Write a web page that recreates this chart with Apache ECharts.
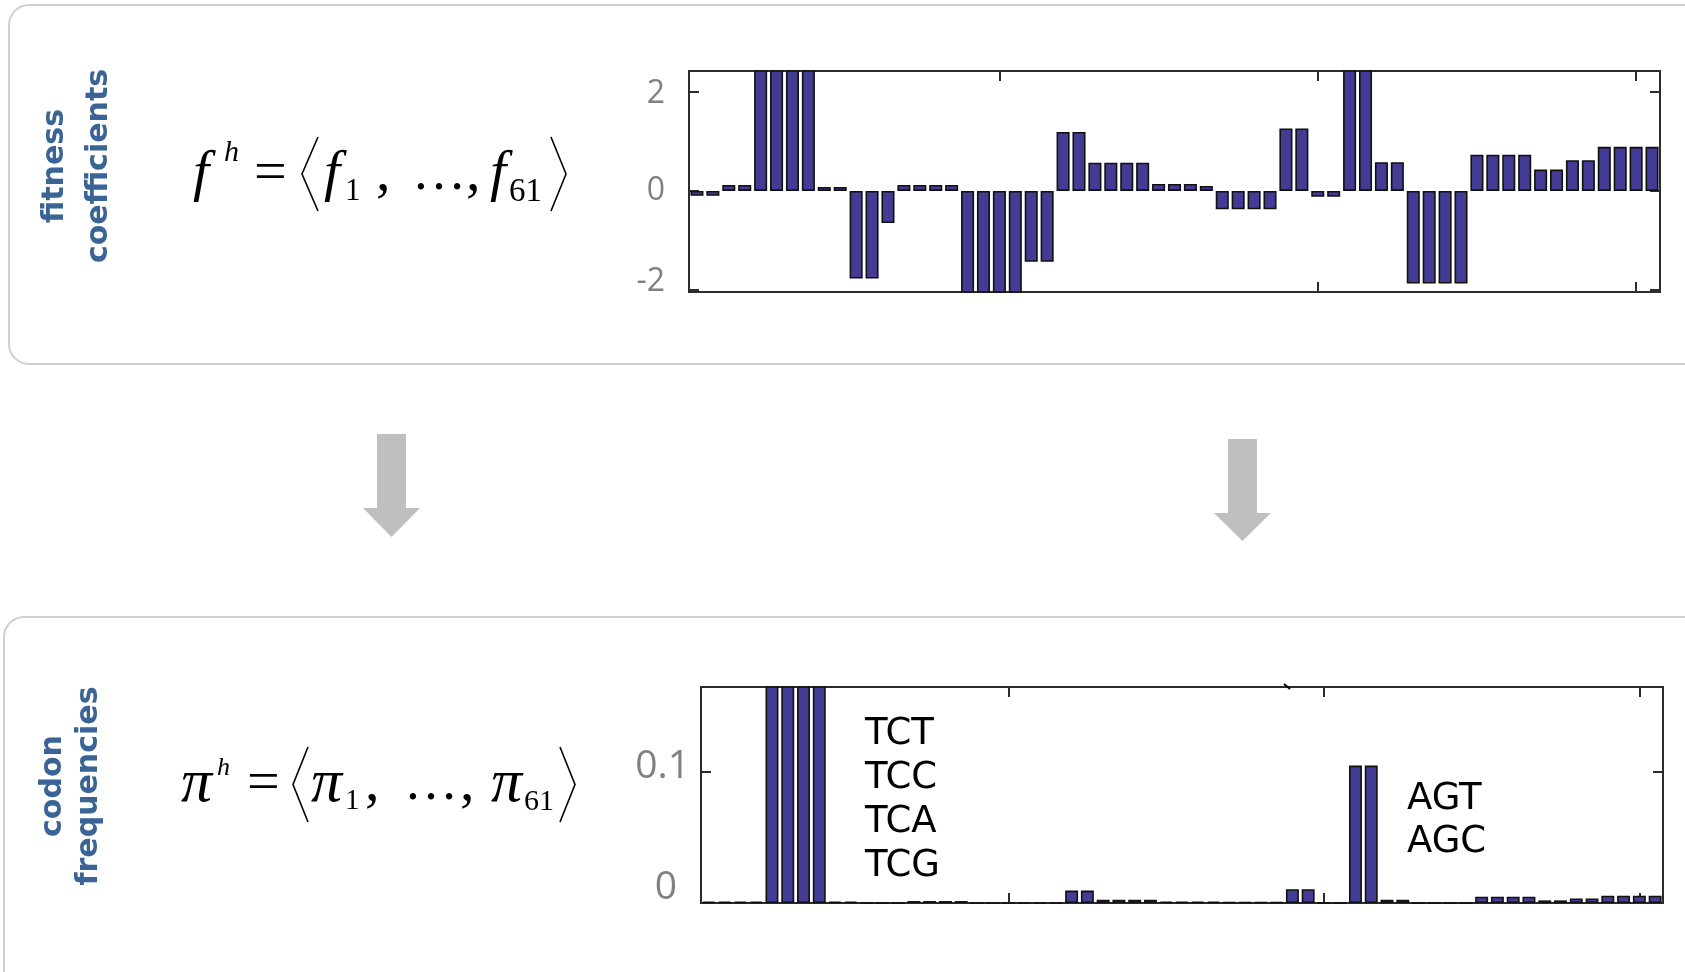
<!DOCTYPE html>
<html>
<head>
<meta charset="utf-8">
<script src="https://cdn.jsdelivr.net/npm/echarts@6/dist/echarts.min.js"></script>
<style>
  html, body { margin: 0; padding: 0; background: #fff; }
  #chart { width: 1685px; height: 972px; }
</style>
</head>
<body>
<div id="chart"></div>
<script>
// codon positions 1..61
const codons = [
  '1','2','3','4','5','6','7','8','9','10',
  '11','12','13','14','15','16','17','18','19','20',
  '21','22','23','24','25','26','27','28','29','30',
  '31','32','33','34','35','36','37','38','39','40',
  '41','42','43','44','45','46','47','48','49','50',
  '51','52','53','54','55','56','57','58','59','60','61'
]

// fitness coefficients f_1..f_61 (bars past the frame are clipped)
const fitness = [
  -0.10, -0.10, 0.12, 0.12, 2.50, 2.50, 2.50, 2.50, 0.08, 0.08,
  -1.77, -1.77, -0.65, 0.12, 0.12, 0.12, 0.12, -2.10, -2.10, -2.10,
  -2.10, -1.43, -1.43, 1.19, 1.19, 0.57, 0.57, 0.57, 0.57, 0.14,
  0.14, 0.14, 0.10, -0.37, -0.37, -0.37, -0.37, 1.26, 1.26, -0.12,
  -0.12, 2.50, 2.50, 0.58, 0.58, -1.87, -1.87, -1.87, -1.87, 0.73,
  0.73, 0.73, 0.73, 0.43, 0.43, 0.62, 0.62, 0.89, 0.89, 0.89, 0.89
]

// codon frequencies pi_1..pi_61
const freq = [
  0.001, 0.001, 0.001, 0.001, 0.18, 0.18, 0.18, 0.18, 0.001, 0.001,
  0, 0, 0, 0.0015, 0.0015, 0.0015, 0.0015, 0, 0, 0,
  0, 0, 0, 0.0095, 0.0095, 0.0025, 0.0025, 0.0025, 0.0025, 0.001,
  0.001, 0.001, 0.001, 0.0005, 0.0005, 0.0005, 0.0005, 0.0105, 0.0105, 0,
  0, 0.105, 0.105, 0.0025, 0.0025, 0, 0, 0, 0, 0.0048,
  0.0048, 0.0048, 0.0048, 0.002, 0.002, 0.0035, 0.0035, 0.0056, 0.0056, 0.0056, 0.0056
]

const xTicks = [20, 40, 60]
const fitTicks = [-2, 0, 2]
const freqTicks = [0, 0.1]
const serineTop = ['TCT', 'TCC', 'TCA', 'TCG']
const serineBottom = ['AGT', 'AGC']

const barColor = '#433b94'
const frameColor = '#2b2b2b'
const labelGray = '#808080'
const titleBlue = '#3b6496'
const arrowGray = '#bfbfbf'

const chart = echarts.init(document.getElementById('chart'), null, {renderer: 'canvas'})

const tickStyle = {show: true, inside: true, length: 10, lineStyle: {color: frameColor, width: 2}}

const catAxis = function (gridIndex, position) {
  return {
    type: 'category',
    gridIndex: gridIndex,
    position: position,
    data: codons,
    boundaryGap: true,
    axisLine: {show: false, onZero: false},
    axisLabel: {show: false},
    splitLine: {show: false},
    axisTick: {
      ...tickStyle,
      alignWithLabel: true,
      interval: function (idx) { return xTicks.indexOf(idx + 1) !== -1 },
    },
  }
}

const valAxis = function (gridIndex, position, min, max, ticks, label) {
  return {
    type: 'value',
    gridIndex: gridIndex,
    position: position,
    min: min,
    max: max,
    axisLine: {show: false, onZero: false},
    splitLine: {show: false},
    axisTick: {...tickStyle, customValues: ticks},
    axisLabel: label ? {customValues: ticks, ...label} : {show: false},
  }
}

// y tick labels, nudged like the hand placed labels of the original
const fitLabel = {
  margin: 24,
  formatter: function (v) {
    if (v === 0) return '{z|0}'
    if (v < 0) return '{m|' + v + '}'
    return '{a|' + v + '}'
  },
  rich: {
    a: {fontSize: 32, fontFamily: 'Open Sans', color: labelGray, padding: [4, 0, 0, 0]},
    z: {fontSize: 32, fontFamily: 'Open Sans', color: labelGray},
    m: {fontSize: 32, fontFamily: 'Open Sans', color: labelGray, padding: [0, 0, 16, 0]},
  },
}

const freqLabel = {
  margin: 11,
  formatter: function (v) {
    return v === 0 ? '{z|0}' : '{a|' + v + '}'
  },
  rich: {
    a: {fontSize: 39, fontFamily: 'Open Sans', color: labelGray, padding: [0, 0, 10, 0]},
    z: {fontSize: 39, fontFamily: 'Open Sans', color: labelGray, padding: [0, 13, 30, 0]},
  },
}

const gridBox = {
  show: true,
  borderColor: frameColor,
  borderWidth: 2,
  backgroundColor: 'transparent',
  containLabel: false,
  outerBoundsMode: 'none',
}

// ---------- decorations (panels, titles, formulas, arrows, codon names) ----------
const serif = 'Liberation Serif'

const txt = function (x, y, text, size, opts) {
  opts = opts || {}
  return {
    type: 'text',
    x: x,
    y: y,
    rotation: opts.rotation || 0,
    style: {
      text: text,
      fontSize: size,
      fontFamily: opts.family || serif,
      fontStyle: opts.italic ? 'italic' : 'normal',
      fontWeight: opts.bold ? 'bold' : 'normal',
      fill: opts.color || '#000',
      align: opts.align || 'left',
      verticalAlign: 'middle',
    },
  }
}

const title = function (x, y, text) {
  return txt(x, y, text, 30, {family: 'DejaVu Sans', bold: true, color: titleBlue, align: 'center', rotation: Math.PI / 2})
}

const bracket = function (pts) {
  return {type: 'polyline', shape: {points: pts}, style: {stroke: '#000', lineWidth: 1.6, fill: null}}
}

const arrow = function (sx0, sx1, top, hx0, hx1, hy, tip) {
  const mid = (hx0 + hx1) / 2
  return {
    type: 'polygon',
    shape: {points: [[sx0, top], [sx1, top], [sx1, hy], [hx1, hy], [mid, tip], [hx0, hy], [sx0, hy]]},
    style: {fill: arrowGray},
  }
}

const decorations = [
  // panels
  {type: 'rect', shape: {x: 9, y: 5, width: 1720, height: 359, r: 20}, style: {fill: null, stroke: '#d0d0d0', lineWidth: 2}},
  {type: 'rect', shape: {x: 4, y: 617, width: 1720, height: 420, r: 20}, style: {fill: null, stroke: '#d0d0d0', lineWidth: 2}},

  // side titles
  title(55, 166, 'fitness'),
  title(99, 166, 'coefficients'),
  title(53, 786, 'codon'),
  title(89, 786, 'frequencies'),

  // f^h = <f_1 , ..., f_61>
  txt(193, 175, 'f', 58, {italic: true}),
  txt(224, 153, 'h', 30, {italic: true}),
  txt(254, 175, '=', 58),
  bracket([[318, 137], [302, 174], [318, 211]]),
  txt(324, 175, 'f', 58, {italic: true}),
  txt(345, 192, '1', 31),
  txt(376, 175, ',', 58),
  txt(412, 175, '\u2026', 54),
  txt(466, 175, ',', 58),
  txt(490, 175, 'f', 58, {italic: true}),
  txt(509, 192, '61', 33),
  bracket([[551, 137], [566, 174], [551, 211]]),

  // pi^h = <pi_1 , ..., pi_61>
  txt(181, 785, '\u03c0', 62, {italic: true}),
  txt(217, 768, 'h', 26, {italic: true}),
  txt(247, 785, '=', 58),
  bracket([[308, 747], [293, 784.5], [308, 822]]),
  txt(311, 785, '\u03c0', 62, {italic: true}),
  txt(345, 801, '1', 29),
  txt(365, 785, ',', 58),
  txt(404, 785, '\u2026', 54),
  txt(460, 785, ',', 58),
  txt(491, 785, '\u03c0', 62, {italic: true}),
  txt(524, 802, '61', 30),
  bracket([[560, 747], [575, 784.5], [560, 822]]),

  // arrows
  arrow(377, 406, 434, 363, 420, 508, 537),
  arrow(1228, 1257, 439, 1214, 1271, 513, 541),

  // stray mark on the lower frame
  {type: 'line', shape: {x1: 1284, y1: 684, x2: 1290, y2: 689}, style: {stroke: '#000', lineWidth: 2}},
]

serineTop.forEach(function (name, i) {
  decorations.push(txt(865, 734 + i * 44, name, 37, {family: 'DejaVu Sans'}))
})
serineBottom.forEach(function (name, i) {
  decorations.push(txt(1407, 799 + i * 43, name, 37, {family: 'DejaVu Sans'}))
})

const barSeries = function (axisIndex, data) {
  return {
    type: 'bar',
    xAxisIndex: axisIndex,
    yAxisIndex: axisIndex,
    data: data,
    barCategoryGap: '18%',
    clip: true,
    itemStyle: {color: barColor, borderColor: '#111', borderWidth: 1.6},
    emphasis: {disabled: true},
  }
}

const option = {
  animation: false,
  backgroundColor: '#fff',
  graphic: {elements: decorations},
  grid: [
    {...gridBox, left: 689, top: 71, width: 971, height: 221},
    {...gridBox, left: 701, top: 687, width: 962, height: 216},
  ],
  xAxis: [
    catAxis(0, 'bottom'),
    catAxis(0, 'top'),
    catAxis(1, 'bottom'),
    catAxis(1, 'top'),
  ],
  yAxis: [
    valAxis(0, 'left', -2.04, 2.42, fitTicks, fitLabel),
    valAxis(0, 'right', -2.04, 2.42, fitTicks, null),
    valAxis(1, 'left', 0, 0.165, freqTicks, freqLabel),
    valAxis(1, 'right', 0, 0.165, freqTicks, null),
  ],
  series: [
    barSeries(0, fitness),
    barSeries(2, freq),
  ],
}

chart.setOption(option)
</script>
</body>
</html>
